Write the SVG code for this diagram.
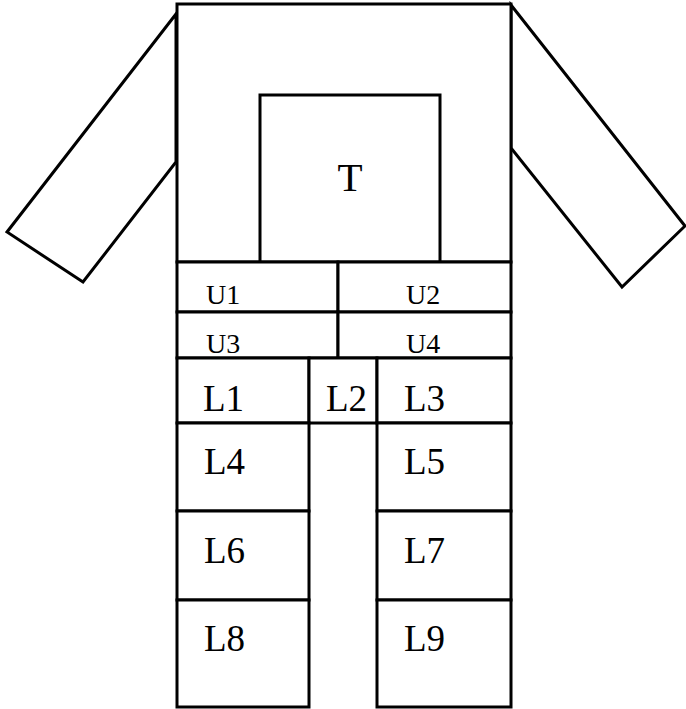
<svg xmlns="http://www.w3.org/2000/svg" width="686" height="709" viewBox="0 0 686 709">
<style>
.s{fill:#fff;stroke:#000;stroke-width:3;stroke-linejoin:miter}
.t{font-family:"Liberation Serif","Times New Roman",serif;fill:#000}
.u{font-size:28px}
.l{font-size:37px}
</style>
<rect width="686" height="709" fill="#fff"/>
<g id="left-arm"><polygon class="s" points="176,14 7,232 83,282 176,162"/></g>
<g id="right-arm"><polygon class="s" points="511,5 685,226 622,287 511,148"/></g>
<g id="torso"><rect class="s" x="177" y="4" width="334" height="258"/></g>
<g id="T"><rect class="s" x="260" y="95" width="180" height="167"/><text class="t" x="350" y="191" font-size="41" text-anchor="middle">T</text></g>
<g id="U1"><rect class="s" x="177" y="262" width="161" height="50"/><text class="t u" x="206" y="304">U1</text></g>
<g id="U2"><rect class="s" x="338" y="262" width="173" height="50"/><text class="t u" x="406" y="304">U2</text></g>
<g id="U3"><rect class="s" x="177" y="312" width="161" height="46"/><text class="t u" x="206" y="353">U3</text></g>
<g id="U4"><rect class="s" x="338" y="312" width="173" height="46"/><text class="t u" x="406" y="353">U4</text></g>
<g id="L1"><rect class="s" x="177" y="358" width="132" height="65"/><text class="t l" x="203" y="411">L1</text></g>
<g id="L2"><rect class="s" x="309" y="358" width="68" height="65"/><text class="t l" x="326" y="411">L2</text></g>
<g id="L3"><rect class="s" x="377" y="358" width="134" height="65"/><text class="t l" x="404" y="411">L3</text></g>
<g id="L4"><rect class="s" x="177" y="423" width="132" height="88"/><text class="t l" x="204" y="474">L4</text></g>
<g id="L5"><rect class="s" x="377" y="423" width="134" height="88"/><text class="t l" x="404" y="474">L5</text></g>
<g id="L6"><rect class="s" x="177" y="511" width="132" height="89"/><text class="t l" x="204" y="563">L6</text></g>
<g id="L7"><rect class="s" x="377" y="511" width="134" height="89"/><text class="t l" x="404" y="563">L7</text></g>
<g id="L8"><rect class="s" x="177" y="600" width="132" height="107"/><text class="t l" x="204" y="651">L8</text></g>
<g id="L9"><rect class="s" x="377" y="600" width="134" height="107"/><text class="t l" x="404" y="651">L9</text></g>
<g id="connectors"></g>
</svg>
